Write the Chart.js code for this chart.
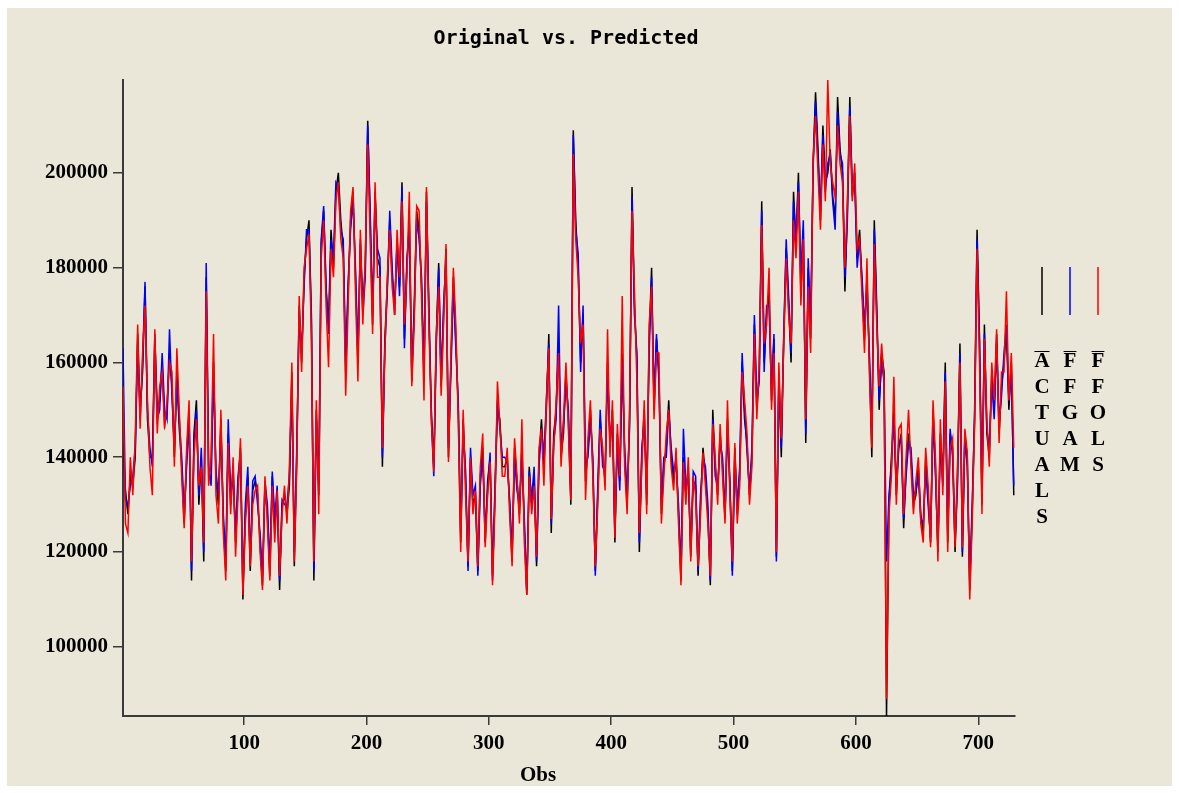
<!DOCTYPE html>
<html>
<head>
<meta charset="utf-8">
<script src="https://cdn.jsdelivr.net/npm/chart.js@4.4.1/dist/chart.umd.min.js"></script>
<style>
  html, body { margin: 0; padding: 0; background: #ffffff; }
  #frame { position: absolute; left: 7px; top: 8px; width: 1165px; height: 778px; background: #ebe7d8; }
</style>
</head>
<body>
<div id="frame"><canvas id="myChart"></canvas></div>
<script>
// one value every second obs, in thousands
const OBS_FIRST = 1;
const OBS_STEP = 2;

const actuals = [
  143,133,128, 136,134,140, 166,150,158, 176,148,140, 140,165,150, 152,160,147, 150,162,155, 140,158,146, 138,126,140, 150,114,145,
  152,130,140, 118,178,136, 138,160,135, 130,148,126, 116,145,130, 138,122,134, 142,110,128, 136,116,133, 135,132,122, 113,134,128,
  115,136,125, 132,112,130, 132,128,134, 158,117,140, 172,160,178, 186,190,168, 114,150,132, 185,192,175, 168,188,180, 196,200,190,
  184,158,175, 190,196,178, 160,185,172, 180,211,190, 168,196,182, 180,138,165, 176,190,178, 172,185,176, 198,165,180, 190,156,172,
  192,188,176, 158,196,170, 150,138,165, 181,155,170, 184,140,160, 178,165,150, 122,148,135, 117,140,130, 132,116,136, 142,122,135,
  140,115,132, 150,148,138, 138,140,130, 118,142,135, 128,142,125, 111,138,130, 136,117,140, 148,138,150, 166,124,145, 150,164,140,
  145,158,148, 130,209,190, 180,160,170, 135,142,150, 138,116,132, 148,140,135, 160,142,150, 122,145,135, 162,140,130, 148,197,172,
  160,120,140, 150,130,165, 180,150,165, 158,128,138, 142,152,140, 135,140,128, 114,140,132, 138,119,135, 134,115,130, 142,136,128,
  113,150,138, 132,145,138, 127,148,135, 116,142,128, 136,160,148, 143,132,140, 168,150,158, 194,160,170, 175,152,165, 119,158,140,
  165,184,172, 160,196,185, 200,175,188, 143,180,165, 202,217,205, 190,210,198, 200,205,195, 190,216,205, 200,175,192, 216,195,200,
  182,188,176, 165,178,160, 140,190,172, 150,162,158, 85.4,130,140, 150,132,142, 145,125,138, 145,140,130, 132,138,128, 124,140,132,
  122,150,138, 120,145,135, 160,122,145, 142,120,136, 164,119,145, 140,112,128, 150,188,165, 130,168,145, 140,158,150, 166,145,155,
  160,167,150, 160,132
];

const ffgam = [
  163,131,130, 134,136,142, 164,148,160, 177,150,142, 138,166,148, 150,162,150, 148,167,153, 142,156,148, 140,128,138, 148,116,143,
  150,132,142, 120,181,138, 134,158,137, 132,146,128, 118,148,132, 136,124,136, 141,112,130, 138,118,135, 136,130,124, 115,135,130,
  117,137,127, 134,114,131, 130,130,136, 156,120,142, 170,162,176, 188,188,170, 116,148,134, 186,193,176, 166,186,182, 198,197,188,
  186,160,177, 188,194,180, 162,186,170, 178,210,192, 170,195,184, 182,140,163, 175,192,180, 170,186,174, 197,163,182, 188,158,170,
  190,186,178, 156,194,172, 148,136,163, 180,157,172, 182,142,158, 176,163,152, 124,146,137, 116,142,132, 134,115,134, 140,124,133,
  141,114,134, 152,146,140, 140,139,131, 120,140,133, 130,140,127, 112,137,131, 138,118,138, 146,140,152, 164,126,143, 148,172,142,
  147,156,150, 132,208,188, 183,158,172, 138,140,148, 140,115,134, 150,138,137, 158,144,148, 124,143,133, 160,142,132, 146,195,170,
  162,122,142, 148,132,162, 178,152,166, 156,130,140, 140,150,142, 137,139,130, 116,146,134, 136,120,137, 136,116,132, 140,138,130,
  114,148,136, 134,143,140, 128,146,134, 115,140,130, 138,162,150, 141,133,142, 170,152,156, 192,158,172, 172,154,166, 118,156,142,
  166,186,174, 162,194,186, 198,178,190, 145,182,168, 201,215,203, 192,208,196, 202,204,194, 188,213,204, 202,178,190, 214,197,198,
  180,186,178, 168,176,162, 145,188,170, 152,160,156, 118,132,138, 148,134,143, 144,127,136, 143,142,132, 133,136,127, 126,138,130,
  123,148,136, 121,143,134, 158,124,146, 140,122,134, 162,120,144, 138,114,130, 148,186,164, 132,166,146, 142,156,148, 164,147,153,
  162,168,152, 158,134
];

const ffols = [
  155,126,124, 140,132,144, 168,146,162, 172,152,138, 132,167,145, 155,158,146, 152,160,158, 138,163,150, 136,125,142, 152,118,140,
  148,134,138, 122,175,134, 140,166,132, 126,150,124, 114,143,128, 140,119,132, 144,111,126, 134,117,130, 133,134,120, 112,136,126,
  114,134,122, 133,115,128, 134,126,138, 160,118,138, 174,158,180, 184,187,165, 118,152,128, 182,190,172, 159,184,178, 194,198,186,
  182,153,172, 192,197,175, 156,188,168, 182,206,186, 166,198,178, 178,142,162, 178,188,176, 170,188,178, 194,168,178, 196,155,168,
  193,192,174, 152,197,168, 148,137,166, 176,153,168, 185,139,162, 180,168,148, 120,150,132, 118,140,128, 133,117,138, 145,121,132,
  139,113,130, 156,147,136, 136,142,128, 117,144,136, 126,148,122, 111,136,128, 134,119,142, 146,134,152, 163,127,142, 152,162,138,
  148,160,146, 131,204,186, 178,164,168, 131,144,152, 136,117,130, 146,142,133, 167,140,152, 123,147,136, 174,138,128, 150,192,175,
  156,124,138, 152,128,168, 176,148,162, 162,126,136, 145,150,138, 133,142,126, 113,139,130, 140,118,136, 132,117,128, 141,134,126,
  115,147,140, 130,147,136, 126,152,132, 118,143,126, 134,158,152, 145,130,138, 166,148,160, 189,164,168, 180,150,162, 120,160,144,
  164,182,170, 164,190,182, 196,172,186, 148,176,162, 203,212,200, 188,206,194, 219.6,202,198, 195,210,202, 198,180,194, 212,194,202,
  184,186,174, 162,182,158, 142,185,168, 155,164,156, 89,128,136, 157,130,146, 147,128,140, 150,138,128, 135,140,126, 122,142,134,
  121,152,140, 118,148,132, 156,120,142, 144,121,138, 160,121,146, 141,110,126, 147,184,160, 128,165,148, 138,160,152, 167,143,158,
  158,175,152, 162,142
];

const seriesNames = ['ACTUALS', 'FFGAM', 'FFOLS'];
const seriesColors = ['#000000', '#0000ff', '#ff0000'];
const xTicks = [100, 200, 300, 400, 500, 600, 700];
const yTicks = [100000, 120000, 140000, 160000, 180000, 200000];

const obs = actuals.map((_, i) => OBS_FIRST + i * OBS_STEP);
const toPoints = vals => vals.map((v, i) => ({ x: obs[i], y: v * 1000 }));

const allVals = actuals.concat(ffgam, ffols);
const yMin = Math.min(...allVals) * 1000;
const yMax = Math.max(...allVals) * 1000;

const serif = 'Liberation Serif, Times New Roman, serif';
const axisColor = '#3a3a3a';

// title, axis name and the stacked-letter legend
const decorations = {
  id: 'decorations',
  afterDraw(chart) {
    const ctx = chart.ctx;
    const area = chart.chartArea;
    ctx.save();
    ctx.fillStyle = '#000';
    ctx.textAlign = 'center';
    ctx.textBaseline = 'middle';

    ctx.font = 'bold 20px "DejaVu Sans Mono", monospace';
    ctx.fillText('Original vs. Predicted', (area.left + area.right) / 2 - 3, area.top - 41);

    ctx.font = 'bold 21px ' + serif;
    ctx.fillText('Obs', area.left + 415, area.bottom + 60);

    const colX = [area.right + 27, area.right + 55, area.right + 83];
    seriesNames.forEach((name, k) => {
      ctx.strokeStyle = seriesColors[k];
      ctx.lineWidth = 1.5;
      ctx.beginPath();
      ctx.moveTo(colX[k], area.top + 187);
      ctx.lineTo(colX[k], area.top + 235);
      ctx.stroke();

      ctx.font = 'bold 21px ' + serif;
      ctx.fillStyle = '#000';
      name.split('').forEach((ch, r) => {
        ctx.fillText(ch, colX[k], area.top + 282 + r * 26);
      });
      // overline on the first letter
      const w = ctx.measureText(name[0]).width;
      ctx.strokeStyle = '#000';
      ctx.lineWidth = 1;
      ctx.beginPath();
      ctx.moveTo(colX[k] - w / 2, area.top + 271.5);
      ctx.lineTo(colX[k] + w / 2, area.top + 271.5);
      ctx.stroke();
    });
    ctx.restore();
  }
};

const ctx = document.getElementById('myChart').getContext('2d');
const chart = new Chart(ctx, {
  type: 'line',
  data: {
    datasets: [
      { label: seriesNames[0], data: toPoints(actuals), borderColor: seriesColors[0], order: 3 },
      { label: seriesNames[1], data: toPoints(ffgam), borderColor: seriesColors[1], order: 2 },
      { label: seriesNames[2], data: toPoints(ffols), borderColor: seriesColors[2], order: 1 }
    ]
  },
  options: {
    responsive: true,
    maintainAspectRatio: false,
    animation: false,
    layout: { padding: { left: 0, top: 72, right: 157, bottom: 0 } },
    elements: {
      line: { borderWidth: 1.5, tension: 0 },
      point: { radius: 0 }
    },
    plugins: {
      legend: { display: false },
      title: { display: false },
      tooltip: { enabled: false }
    },
    scales: {
      x: {
        type: 'linear',
        min: OBS_FIRST,
        max: 730,
        afterBuildTicks: s => { s.ticks = xTicks.map(v => ({ value: v })); },
        afterFit: s => { s.height = 70; },
        grid: { drawOnChartArea: false, drawTicks: true, tickLength: 9, color: axisColor, lineWidth: 1.5 },
        border: { display: true, color: axisColor, width: 2 },
        ticks: { color: '#000', padding: 6, maxRotation: 0, font: { family: serif, weight: 'bold', size: 21 } }
      },
      y: {
        min: yMin,
        max: yMax,
        afterBuildTicks: s => { s.ticks = yTicks.map(v => ({ value: v })); },
        afterFit: s => { s.width = 116; },
        grid: { drawOnChartArea: false, drawTicks: true, tickLength: 10, color: axisColor, lineWidth: 1.5 },
        border: { display: true, color: axisColor, width: 2 },
        ticks: { color: '#000', padding: 5, callback: v => String(v), font: { family: serif, weight: 'bold', size: 21 } }
      }
    }
  },
  plugins: [decorations]
});
</script>
</body>
</html>
